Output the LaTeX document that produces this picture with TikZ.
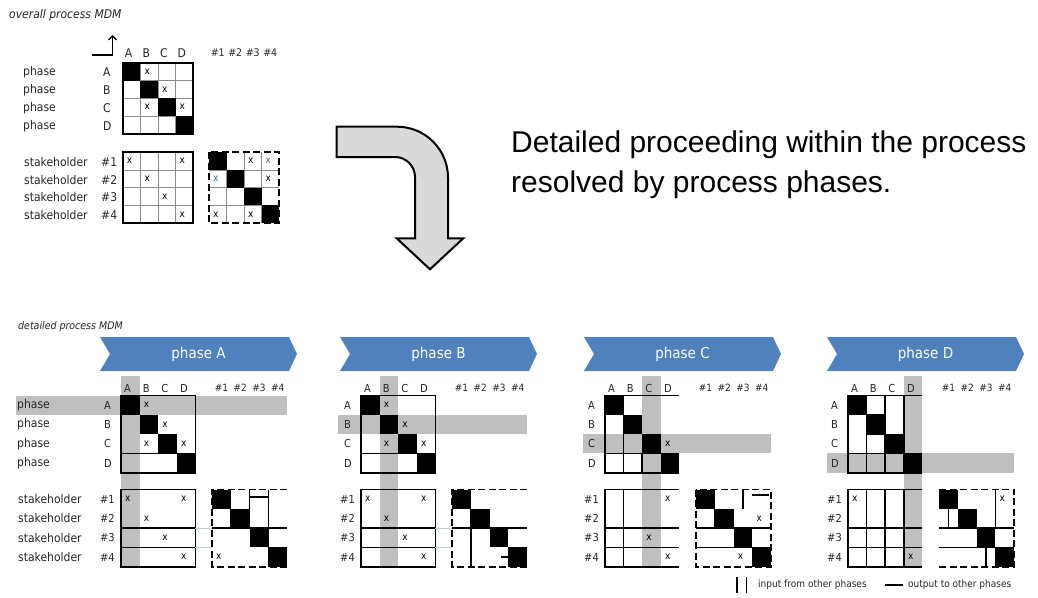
\documentclass[tikz,border=0pt]{standalone}
\usepackage{fontspec}
\setmainfont{Carlito}
\newfontfamily\tah[FakeStretch=0.9]{DejaVu Sans}
\newfontfamily\arialfont{Liberation Sans}
\usetikzlibrary{arrows.meta}
\definecolor{bandgray}{RGB}{191,191,191}
\definecolor{bannerblue}{RGB}{79,129,189}
\definecolor{gridgray}{RGB}{140,140,140}
\definecolor{xblue}{RGB}{70,100,160}
\definecolor{guideblue}{RGB}{184,204,228}
\definecolor{arrowfill}{RGB}{217,217,217}

% cell sizes of the small overview MDM
\def\tx{122.7}\def\ty{62.7}\def\tcw{17.6}\def\tch{17.8}
\def\tsy{152}\def\tdx{209}\def\tdw{17.5}
% cell sizes of the four phase MDMs
\def\pcw{18.6}\def\pch{19.3}\def\pdw{18.8}\def\ppy{395.5}\def\psy{489.5}

\tikzset{
  lab/.style={font=\tah\fontsize{12}{14}\selectfont, inner sep=0pt, text=black!85},
  hlab/.style={font=\tah\fontsize{10.5}{12}\selectfont, inner sep=0pt, text=black!85},
  blab/.style={font=\tah\fontsize{11}{13}\selectfont, inner sep=0pt, text=black!85},
  bhlab/.style={font=\tah\fontsize{10}{12}\selectfont, inner sep=0pt, text=black!85},
  xm/.style={font=\tah\fontsize{10}{12}\selectfont, inner sep=0pt, anchor=west},
  frame/.style={line width=1.6pt},
  fine/.style={draw=gridgray, line width=0.6pt},
  dashframe/.style={line width=1.7pt, dash pattern=on 7pt off 3.5pt},
  guide/.style={draw=guideblue, line width=1pt},
}

% shared parts of one phase panel: #1 banner text, #2 highlighted column,
% #3 highlighted row, #4 left end of row band, #5 node prefix
\newcommand\phasepanel[5]{%
  \fill[bandgray] (#2*\pcw, 376) rectangle ++(\pcw, 191);
  \fill[bandgray] (#4, \ppy+#3*\pch) rectangle (166, \ppy+#3*\pch+\pch);
  \foreach \i in {0,...,3} {
    \fill (\i*\pcw, \ppy+\i*\pch) rectangle ++(\pcw,\pch);
    \fill (91+\i*\pdw, \psy+\i*\pch) rectangle ++(\pdw,\pch);
  }
  \fill[bannerblue] (-21,337) -- (168,337) -- (176,354) -- (168,371) -- (-21,371) -- (-11,354) -- cycle;
  \node[font=\tah\fontsize{15}{17}\selectfont, text=white, inner sep=0pt] (#5ban) at (77.5,354) {#1};
  \foreach \L [count=\k from 0] in {A,B,C,D} {
    \node[blab, anchor=west] (#5c\L) at (\k*\pcw+3, 388) {\L};
    \node[blab, anchor=west] (#5r\L) at (-17, \ppy+\k*\pch+\pch/2) {\L};
  }
  \foreach \k [count=\j from 0] in {1,2,3,4} {
    \node[bhlab] (#5d\k) at (91+\j*\pdw+\pdw/2, 388) {\#\k};
    \node[blab, anchor=west] (#5s\k) at (-21, \psy+\j*\pch+\pch/2) {\#\k};
  }
}
% an x mark in row #1, column #2 of the phase matrix (#3 = name)
\newcommand\pmark[3]{\node[xm] (#3) at (#2*\pcw+4, \ppy+#1*\pch+\pch/2) {x};}
\newcommand\smark[3]{\node[xm] (#3) at (#2*\pcw+4, \psy+#1*\pch+\pch/2) {x};}
\newcommand\dmark[3]{\node[xm] (#3) at (91+#2*\pdw+4, \psy+#1*\pch+\pch/2) {x};}

\begin{document}
\begin{tikzpicture}[x=1pt, y=-1pt]
\useasboundingbox (0,0) rectangle (1038,597);

% ---------------- overall process MDM ----------------
\node[font=\tah\itshape\fontsize{12}{14}\selectfont, anchor=west, inner sep=0pt, text=black!85] (title) at (9,15) {overall process MDM};

\coordinate (turnA) at (92,55);
\coordinate (turnB) at (112.5,55);
\coordinate (turnC) at (112.5,35);
\draw[line width=1.3pt, -{Straight Barb[length=4pt,width=8pt]}] (turnA) -- (turnB) -- (turnC);

% phase x phase, stakeholder x phase, stakeholder x stakeholder
\foreach \i in {1,2,3} {
  \draw[fine] (\tx+\i*\tcw, \ty) -- ++(0, 4*\tch);
  \draw[fine] (\tx, \ty+\i*\tch) -- ++(4*\tcw, 0);
  \draw[fine] (\tx+\i*\tcw, \tsy) -- ++(0, 4*\tch);
  \draw[fine] (\tx, \tsy+\i*\tch) -- ++(4*\tcw, 0);
  \draw[fine] (\tdx+\i*\tdw, \tsy) -- ++(0, 4*\tch);
  \draw[fine] (\tdx, \tsy+\i*\tch) -- ++(4*\tdw, 0);
}
\foreach \i in {0,...,3} {
  \fill (\tx+\i*\tcw, \ty+\i*\tch) rectangle ++(\tcw,\tch);
  \fill (\tdx+\i*\tdw, \tsy+\i*\tch) rectangle ++(\tdw,\tch);
}
\draw[frame] (\tx,\ty) rectangle ++(4*\tcw,4*\tch);
\draw[frame] (\tx,\tsy) rectangle ++(4*\tcw,4*\tch);
\draw[dashframe] (\tdx,\tsy) rectangle ++(4*\tdw,4*\tch);

\foreach \r/\c [count=\k] in {0/1,1/2,2/1,2/3}
  \node[xm] (tpx\k) at (\tx+\c*\tcw+4, \ty+\r*\tch+\tch/2) {x};
\foreach \r/\c [count=\k] in {0/0,0/3,1/1,2/2,3/3}
  \node[xm] (tsx\k) at (\tx+\c*\tcw+4, \tsy+\r*\tch+\tch/2) {x};
\foreach \r/\c/\col [count=\k] in {0/2/black,0/3/xblue,1/0/xblue,1/3/black,3/0/black,3/2/black}
  \node[xm, text=\col] (tdxm\k) at (\tdx+\c*\tdw+4, \tsy+\r*\tch+\tch/2) {x};

\foreach \L [count=\k from 0] in {A,B,C,D} {
  \node[lab, anchor=west] (tphase\L) at (23, \ty+\k*\tch+\tch/2+1) {phase};
  \node[lab, anchor=west] (trow\L) at (103, \ty+\k*\tch+\tch/2+1) {\L};
  \node[lab, anchor=west] (tcol\L) at (\tx+\k*\tcw+2, 53) {\L};
}
\foreach \k [count=\j from 0] in {1,2,3,4} {
  \node[lab, anchor=west] (tsh\k) at (24, \tsy+\j*\tch+\tch/2+1) {stakeholder};
  \node[lab, anchor=west] (tsn\k) at (101, \tsy+\j*\tch+\tch/2+1) {\#\k};
  \node[hlab] (tdc\k) at (\tdx+\j*\tdw+\tdw/2, 53) {\#\k};
}

% ---------------- bent arrow and caption ----------------
\filldraw[fill=arrowfill, draw=black, line width=2pt, line join=miter]
  (336.7,126.7) -- (397,126.7) .. controls (425.2,126.7) and (448,149.5) .. (448,177.7)
  -- (448,238.3) -- (463.3,238.3) -- (430,269.3) -- (396.7,238.3) -- (415,238.3)
  -- (415,177) .. controls (415,166) and (406,157) .. (395,157) -- (336.7,157) -- cycle;

\node[font=\arialfont\fontsize{30}{36}\selectfont, anchor=base west, inner sep=0pt] (cap1) at (511,152) {Detailed proceeding within the process};
\node[font=\arialfont\fontsize{30}{36}\selectfont, anchor=base west, inner sep=0pt] (cap2) at (511,192) {resolved by process phases.};

% ---------------- detailed MDMs per phase ----------------
\node[font=\tah\itshape\fontsize{10.5}{12}\selectfont, anchor=west, inner sep=0pt, text=black!85] (subtitle) at (18,327) {detailed process MDM};

% phase A
\begin{scope}[shift={(121,0)}]
  \phasepanel{phase A}{0}{0}{-105}{pa}
  \foreach \k [count=\j from 0] in {A,B,C,D}
    \node[lab, anchor=west] (paph\k) at (-104, \ppy+\j*\pch+\pch/2) {phase};
  \foreach \k [count=\j from 0] in {1,2,3,4}
    \node[lab, anchor=west] (pash\k) at (-103, \psy+\j*\pch+\pch/2) {stakeholder};
  \draw[frame] (0,\ppy) rectangle ++(4*\pcw,4*\pch);
  \draw[frame] (0,\ppy+3*\pch) -- ++(3*\pcw,0);
  \draw[frame] (0,\psy) rectangle ++(4*\pcw,4*\pch);
  \draw[frame] (0,\psy+2*\pch) -- ++(4*\pcw,0);
  \draw[frame] (0,\psy+3*\pch) -- ++(4*\pcw,0);
  \draw[guide] (4*\pcw,\psy+2*\pch) -- (91,\psy+2*\pch);
  \draw[guide] (4*\pcw,\psy+3*\pch) -- (91,\psy+3*\pch);
  \draw[dashframe] (91+4*\pdw,\psy) -- (91,\psy) -- (91,\psy+4*\pch) -- (91+4*\pdw,\psy+4*\pch);
  \draw[frame] (91,\psy+2*\pch) -- ++(4*\pdw,0);
  \draw[frame] (91+\pdw,\psy+\pch) -- ++(0,\pch);
  \draw[frame] (91+2*\pdw,\psy) -- ++(0,2*\pch);
  \draw[frame] (91+3*\pdw,\psy) -- ++(0,3*\pch);
  \draw[frame] (91+2*\pdw,\psy+0.4*\pch) -- ++(\pdw,0);
  \pmark{0}{1}{pax1}\pmark{1}{2}{pax2}\pmark{2}{1}{pax3}\pmark{2}{3}{pax4}
  \smark{0}{0}{pay1}\smark{0}{3}{pay2}\smark{1}{1}{pay3}\smark{2}{2}{pay4}\smark{3}{3}{pay5}
  \dmark{3}{0}{paz1}
\end{scope}

% phase B
\begin{scope}[shift={(361,0)}]
  \phasepanel{phase B}{1}{1}{-23}{pb}
  \draw[frame] (0,\ppy) rectangle ++(4*\pcw,4*\pch);
  \draw[frame] (0,\ppy+3*\pch) -- ++(3*\pcw,0);
  \draw[frame] (0,\psy) rectangle ++(4*\pcw,4*\pch);
  \draw[frame] (0,\psy+2*\pch) -- ++(4*\pcw,0);
  \draw[frame] (0,\psy+3*\pch) -- ++(4*\pcw,0);
  \draw[guide] (4*\pcw,\psy+2*\pch) -- (91,\psy+2*\pch);
  \draw[guide] (4*\pcw,\psy+3*\pch) -- (91,\psy+3*\pch);
  \draw[dashframe] (91+4*\pdw,\psy) -- (91,\psy) -- (91,\psy+4*\pch) -- (91+4*\pdw,\psy+4*\pch);
  \draw[frame] (91,\psy+2*\pch) -- ++(4*\pdw,0);
  \draw[frame] (91+\pdw,\psy+\pch) -- ++(0,3*\pch);
  \draw[frame] (91+2.6*\pdw,\psy+3.5*\pch) -- ++(0.4*\pdw,0);
  \pmark{0}{1}{pbx1}\pmark{1}{2}{pbx2}\pmark{2}{1}{pbx3}\pmark{2}{3}{pbx4}
  \smark{0}{0}{pby1}\smark{0}{3}{pby2}\smark{1}{1}{pby3}\smark{2}{2}{pby4}\smark{3}{3}{pby5}
\end{scope}

% phase C
\begin{scope}[shift={(605,0)}]
  \phasepanel{phase C}{2}{2}{-22}{pc}
  \draw[frame] (4*\pcw,\ppy) -- (0,\ppy) -- (0,\ppy+4*\pch) -- (4*\pcw,\ppy+4*\pch);
  \draw[frame] (\pcw,\ppy+\pch) -- (\pcw,\ppy+4*\pch);
  \draw[frame] (2*\pcw,\ppy+3*\pch) -- (2*\pcw,\ppy+4*\pch);
  \draw[frame] (0,\ppy+3*\pch) -- ++(3*\pcw,0);
  \draw[frame] (4*\pcw,\psy) -- (0,\psy) -- (0,\psy+4*\pch) -- (4*\pcw,\psy+4*\pch);
  \draw[frame] (\pcw,\psy) -- ++(0,4*\pch);
  \draw[frame] (0,\psy+2*\pch) -- ++(4*\pcw,0);
  \draw[frame] (0,\psy+3*\pch) -- ++(4*\pcw,0);
  \draw[dashframe] (91,\psy) rectangle ++(4*\pdw,4*\pch);
  \draw[frame] (91,\psy+2*\pch) -- ++(4*\pdw,0);
  \draw[frame] (91,\psy+3*\pch) -- ++(3*\pdw,0);
  \draw[frame] (91+\pdw,\psy+\pch) -- ++(0,\pch);
  \draw[frame] (91+2.5*\pdw,\psy) -- ++(0,\pch);
  \draw[frame] (91+3*\pdw,\psy+0.3*\pch) -- ++(0.9*\pdw,0);
  \pmark{2}{3}{pcx1}
  \smark{0}{3}{pcy1}\smark{2}{2}{pcy2}\smark{3}{3}{pcy3}
  \dmark{1}{3}{pcz1}\dmark{3}{2}{pcz2}
\end{scope}

% phase D
\begin{scope}[shift={(848,0)}]
  \phasepanel{phase D}{3}{3}{-21}{pd}
  \draw[frame] (4*\pcw,\ppy) -- (0,\ppy) -- (0,\ppy+4*\pch) -- (4*\pcw,\ppy+4*\pch);
  \foreach \i in {1,2,3} \draw[frame] (\i*\pcw,\ppy) -- ++(0,4*\pch);
  \draw[frame] (0,\ppy+3*\pch) -- ++(4*\pcw,0);
  \draw[frame] (\pcw,\ppy+\pch) -- ++(\pcw,0);
  \draw[frame] (\pcw,\ppy+2*\pch) -- ++(\pcw,0);
  \draw[frame] (4*\pcw,\psy) -- (0,\psy) -- (0,\psy+4*\pch) -- (4*\pcw,\psy+4*\pch);
  \foreach \i in {1,2,3} \draw[frame] (\i*\pcw,\psy) -- ++(0,4*\pch);
  \draw[frame] (0,\psy+2*\pch) -- ++(4*\pcw,0);
  \draw[frame] (0,\psy+3*\pch) -- ++(4*\pcw,0);
  \draw[dashframe] (91,\psy) -- (91+4*\pdw,\psy) -- (91+4*\pdw,\psy+4*\pch) -- (91,\psy+4*\pch);
  \draw[frame] (91,\psy+2*\pch) -- ++(4*\pdw,0);
  \draw[frame] (91,\psy+3*\pch) -- ++(4*\pdw,0);
  \draw[frame] (91+0.5*\pdw,\psy+\pch) -- ++(0,\pch);
  \draw[frame] (91+3*\pdw,\psy) -- ++(0,2*\pch);
  \draw[frame] (91+2.5*\pdw,\psy+3*\pch) -- ++(0,\pch);
  \smark{0}{0}{pdy1}\smark{3}{3}{pdy2}
  \dmark{0}{3}{pdz1}
\end{scope}

% legend
\draw[line width=1.8pt] (737,577) -- (737,593);
\draw[line width=1.8pt] (746.5,577) -- (746.5,593);
\node[font=\tah\fontsize{10}{12}\selectfont, anchor=west, inner sep=0pt, text=black!85] (lg1) at (758,585) {input from other phases};
\draw[line width=1.8pt] (885,585) -- (903,585);
\node[font=\tah\fontsize{10}{12}\selectfont, anchor=west, inner sep=0pt, text=black!85] (lg2) at (908,585) {output to other phases};
\end{tikzpicture}
\end{document}
